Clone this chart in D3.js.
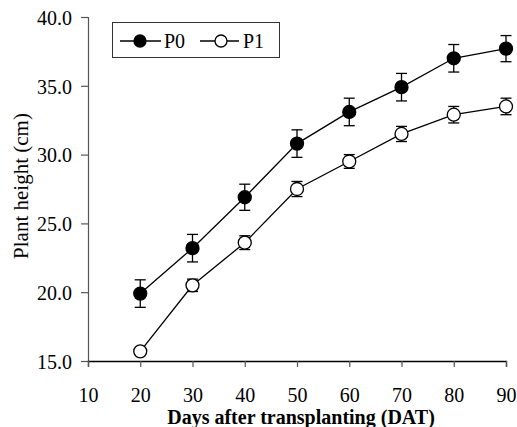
<!DOCTYPE html>
<html>
<head>
<meta charset="utf-8">
<script src="https://cdn.jsdelivr.net/npm/d3@7"></script>
<style>
  html, body { margin: 0; padding: 0; background: #fff; }
  svg text { font-family: "Liberation Serif", "Times New Roman", Times, Tinos, "Nimbus Roman", "DejaVu Serif", serif !important; }
</style>
</head>
<body>
<svg id="chart" width="517" height="427" style="display:block"></svg>
<script>
// ---- data ----
const days = [20, 30, 40, 50, 60, 70, 80, 90];
const p0 = [19.9, 23.2, 26.9, 30.8, 33.1, 34.9, 37.0, 37.7];
const p0Err = [1.0, 1.0, 0.95, 1.0, 1.0, 1.0, 1.0, 0.95];
const p1 = [15.7, 20.5, 23.6, 27.5, 29.5, 31.5, 32.9, 33.5];
const p1Err = [0.2, 0.45, 0.5, 0.55, 0.5, 0.55, 0.6, 0.6];
const xTicks = [10, 20, 30, 40, 50, 60, 70, 80, 90];
const yTicks = [15, 20, 25, 30, 35, 40];
const seriesNames = ["P0", "P1"];

// ---- layout ----
const svg = d3.select("#chart");
const mLeft = 88, mRight = 506, mTop = 17, mBottom = 361;
const x = d3.scaleLinear().domain([10, 90]).range([mLeft, mRight]);
const y = d3.scaleLinear().domain([15, 40]).range([mBottom, mTop]);

// axes
const yAxis = svg.append("g").attr("transform", `translate(${mLeft},0)`)
  .call(d3.axisLeft(y).tickValues(yTicks).tickSize(7).tickPadding(9).tickFormat(d3.format(".1f")));
yAxis.select(".domain").attr("stroke", "#555").attr("stroke-width", 1.2);
yAxis.selectAll(".tick line").attr("stroke", "#555").attr("stroke-width", 1.2);
yAxis.selectAll("text").attr("font-size", 20).attr("fill", "#000").attr("dy", "0.36em");

const xAxis = svg.append("g").attr("transform", `translate(0,${mBottom})`)
  .call(d3.axisBottom(x).tickValues(xTicks).tickSize(6).tickPadding(21).tickFormat(d3.format("d")));
xAxis.select(".domain").attr("stroke", "#000").attr("stroke-width", 1.3);
xAxis.selectAll(".tick line").attr("stroke", "#555").attr("stroke-width", 1.2);
xAxis.selectAll("text").attr("font-size", 20).attr("fill", "#000");

// axis titles
svg.append("text")
  .attr("x", (mLeft + mRight) / 2 + 4).attr("y", 424)
  .attr("text-anchor", "middle").attr("font-size", 20).attr("font-weight", "bold")
  .text("Days after transplanting (DAT)");
svg.append("text")
  .attr("transform", `translate(28,${(mTop + mBottom) / 2 - 3}) rotate(-90)`)
  .attr("text-anchor", "middle").attr("font-size", 21)
  .text("Plant height (cm)");

// series
const series = [
  { name: seriesNames[0], vals: p0, err: p0Err, fill: "#000" },
  { name: seriesNames[1], vals: p1, err: p1Err, fill: "#fff" }
];
const line = d3.line().x(d => x(d[0])).y(d => y(d[1]));

series.forEach(s => {
  const pts = days.map((d, i) => [d, s.vals[i], s.err[i]]);
  svg.append("path").datum(pts).attr("d", line)
    .attr("fill", "none").attr("stroke", "#000").attr("stroke-width", 1.3);
  const eb = svg.append("g");
  pts.forEach(p => {
    const cx = x(p[0]), y1 = y(p[1] + p[2]), y2 = y(p[1] - p[2]);
    eb.append("line").attr("x1", cx).attr("x2", cx).attr("y1", y1).attr("y2", y2)
      .attr("stroke", "#000").attr("stroke-width", 1.3);
    [y1, y2].forEach(yy => eb.append("line").attr("x1", cx - 5.5).attr("x2", cx + 5.5)
      .attr("y1", yy).attr("y2", yy).attr("stroke", "#000").attr("stroke-width", 1.3));
  });
  svg.append("g").selectAll("circle").data(pts).join("circle")
    .attr("cx", d => x(d[0])).attr("cy", d => y(d[1])).attr("r", 6.5)
    .attr("fill", s.fill).attr("stroke", "#000").attr("stroke-width", 1.3);
});

// legend
const lg = svg.append("g");
lg.append("rect").attr("x", 112.5).attr("y", 22.5).attr("width", 167).attr("height", 35)
  .attr("fill", "#fff").attr("stroke", "#333").attr("stroke-width", 1);
const legendItems = [
  { x0: 120, x1: 161, cx: 140, tx: 164, fill: "#000", name: seriesNames[0] },
  { x0: 200, x1: 239, cx: 221, tx: 243, fill: "#fff", name: seriesNames[1] }
];
legendItems.forEach(it => {
  lg.append("line").attr("x1", it.x0).attr("x2", it.x1).attr("y1", 41).attr("y2", 41)
    .attr("stroke", "#000").attr("stroke-width", 1.3);
  lg.append("circle").attr("cx", it.cx).attr("cy", 41).attr("r", 6)
    .attr("fill", it.fill).attr("stroke", "#000").attr("stroke-width", 1.3);
  lg.append("text").attr("x", it.tx).attr("y", 48).attr("font-size", 20).text(it.name);
});
</script>
</body>
</html>
